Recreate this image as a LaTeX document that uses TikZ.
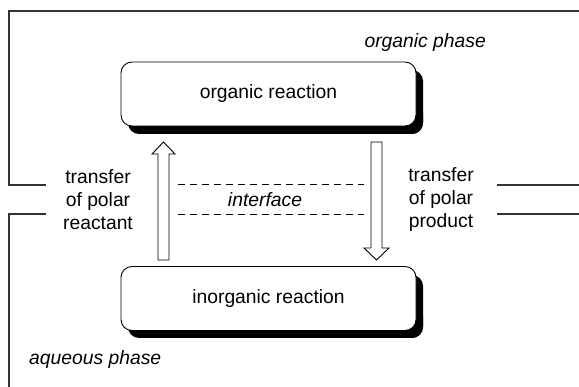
\documentclass[tikz,border=0pt]{standalone}
\usepackage{fontspec}
\setmainfont{Liberation Sans}
\begin{document}
\begin{tikzpicture}[x=1pt,y=-1pt,
  frame/.style={line width=1.3pt,draw=black!80},
  rbox/.style={draw=black,line width=0.9pt,fill=white,rounded corners=11pt,
    minimum width=295pt,minimum height=64pt,inner sep=0pt,font=\fontsize{19.3}{23}\selectfont},
  shadowbox/.style={fill=black,rounded corners=11pt},
  lbl/.style={font=\fontsize{19.3}{23}\selectfont,align=center,inner sep=0pt},
  itl/.style={font=\fontsize{19.3}{23}\selectfont\itshape,inner sep=0pt},
  blockarrow/.style={draw=black,line width=0.9pt,fill=white},
  iface/.style={dashed,dash pattern=on 7pt off 5pt,line width=0.9pt}]
\useasboundingbox (0,0) rectangle (579,387);
% frame
\coordinate (tl1) at (46,185);
\coordinate (tl2) at (9,185);
\coordinate (tl3) at (9,11);
\coordinate (tl4) at (579,11);
\coordinate (tr1) at (497,185);
\coordinate (tr2) at (579,185);
\coordinate (bl1) at (46,214);
\coordinate (bl2) at (9,214);
\coordinate (bl3) at (9,387);
\coordinate (br1) at (497,214);
\coordinate (br2) at (579,214);
\draw[frame] (tl1) -- (tl2) -- (tl3) -- (tl4);
\draw[frame] (tr1) -- (tr2);
\draw[frame] (bl1) -- (bl2) -- (bl3);
\draw[frame] (br1) -- (br2);
% boxes
\fill[shadowbox] (128,102) rectangle (423,134);
\fill[shadowbox] (128,306) rectangle (423,338);
\fill[shadowbox] (380,70) rectangle (423,134);
\fill[shadowbox] (380,275) rectangle (423,338);
\node[rbox] (org) at (268.5,94) {organic reaction};
\node[rbox] (inorg) at (268.5,298.5) {inorganic reaction};
% interface
\coordinate (d1a) at (178,184);
\coordinate (d1b) at (364,184);
\coordinate (d2a) at (178,214);
\coordinate (d2b) at (364,214);
\draw[iface] (d1a) -- (d1b);
\draw[iface] (d2a) -- (d2b);
\node[itl] (iface) at (265,199.5) {interface};
% block arrows
\draw[blockarrow] (158,260) -- (158,154) -- (152,154) -- (163.5,142) -- (175,154) -- (169,154) -- (169,260) -- cycle;
\draw[blockarrow] (371,142) -- (371,248) -- (364,248) -- (376.5,260) -- (389,248) -- (382,248) -- (382,142) -- cycle;
% labels
\node[lbl] (left) at (98,200) {transfer\\of polar\\reactant};
\node[lbl] (right) at (441,200) {transfer\\of polar\\product};
\node[itl,anchor=east] (orgph) at (486,43) {organic phase};
\node[itl,anchor=west] (aqph) at (29,360) {aqueous phase};
\end{tikzpicture}
\end{document}
